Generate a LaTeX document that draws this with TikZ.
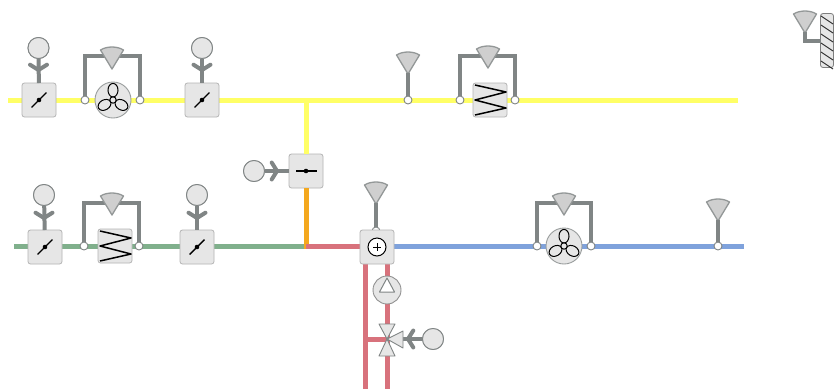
\documentclass[tikz,border=0pt]{standalone}
\usetikzlibrary{calc}
\definecolor{pyellow}{HTML}{FFFF66}
\definecolor{pgreen}{HTML}{80B08C}
\definecolor{pred}{HTML}{D8727C}
\definecolor{pblue}{HTML}{7FA2DC}
\definecolor{porange}{HTML}{F4A81E}
\definecolor{stem}{HTML}{808585}
\definecolor{edge}{HTML}{B4B4B4}
\definecolor{fillg}{HTML}{E6E6E6}
\tikzset{
 pipe/.style={line width=5pt},
 stemline/.style={draw=stem,line width=4pt},
 unitbox/.style={draw=edge,fill=fillg,line width=0.8pt,rounded corners=2.5pt,minimum size=34pt,inner sep=0pt,outer sep=0pt},
 actuator/.style={circle,draw=stem,fill=fillg,line width=0.9pt,minimum size=21pt,inner sep=0pt,outer sep=0pt},
 port/.style={circle,draw=stem,fill=white,line width=0.9pt,minimum size=8pt,inner sep=0pt,outer sep=0pt},
 rotor/.style={circle,draw=stem!80,fill=fillg,line width=0.9pt,minimum size=36pt,inner sep=0pt,outer sep=0pt},
 symb/.style={draw=black,line width=1.1pt},
 conef/.style={draw=stem!85,fill=fillg!90!black,line width=1.3pt,line join=round},
 tri/.style={draw=stem,fill=fillg,line width=0.9pt,line join=round}
}
% sensor cone with its top centre x, top y
\newcommand{\conesym}[3]{%
 \coordinate (#1) at (#2,#3+21);
 \draw[conef] (#2,#3+22) -- (#2-11.5,#3+3) .. controls (#2-5,#3-1) and (#2+5,#3-1) .. (#2+11.5,#3+3) -- cycle;}
% chevron: apex at x,y; arms along the angle given
\newcommand{\chev}[3]{%
 \draw[stemline,line cap=round,line join=round] (#1,#2) ++(#3+58:10) -- (#1,#2) -- ++(#3-58:10);}
\newcommand{\bladesym}[3]{%
 \draw[symb,line width=1.4pt] (#1,#2) ++(#3:10.5) -- (#1,#2) -- ++(#3+180:10.5);
 \fill[black] (#1,#2) circle (2.3);}
\newcommand{\zigzag}[2]{%
 \draw[symb,line width=1.5pt,line join=round] (#1-15,#2-15) -- (#1+16,#2-8) -- (#1-15,#2) -- (#1+16,#2+8) -- (#1-15,#2+15);}
\newcommand{\fanblades}[2]{%
 \foreach \a in {90,210,330}{%
  \begin{scope}[shift={(#1,#2)},rotate=\a]
   \draw[black,line width=1pt,fill=fillg] (9.8,0) ellipse [x radius=6.8pt,y radius=5pt];
  \end{scope}}
 \draw[black,line width=1pt,fill=fillg] (#1,#2) circle (3.2);}
\begin{document}
\begin{tikzpicture}[x=1pt,y=-1pt]
\useasboundingbox[fill=white] (0,0) rectangle (834,389);
% pipe end points
\coordinate (ya) at (8,100); \coordinate (yb) at (738,100); \coordinate (yj) at (306,100);
\coordinate (ga) at (14,246); \coordinate (gj) at (306,246);
\coordinate (bb) at (744,246);
\coordinate (ra) at (365,389); \coordinate (rb) at (387,389);
\coordinate (mw) at (362,246); \coordinate (me) at (392,246);
\coordinate (rc) at (365,262); \coordinate (rd) at (387,262);
% pipes
\draw[pipe,pyellow] (ya) -- (yb);
\draw[pipe,pgreen] (ga) -- (gj);
\node[unitbox] (dmid) at (306,171) {};
\draw[pipe,pyellow] (yj) -- (dmid.north);
\draw[pipe,porange] (dmid.south) -- ($(gj)+(0,2.5)$);
\draw[pipe,pred] (gj) -- (mw);
\draw[pipe,pblue] (me) -- (bb);
\draw[pipe,pred] (rc) -- (ra);
\draw[pipe,pred] (rd) -- (rb);
\coordinate (valve) at (387,339);
\coordinate (vb) at (365,339);
\draw[pipe,pred] (vb) -- (valve);
% top row
\node[unitbox] (d1) at (39,100) {};
\node[actuator] (a1) at (38.5,48) {};
\draw[stemline] (a1) -- (d1);
\chev{38.5}{70}{-90}
\node[actuator] (a1t) at (38.5,48) {};
\bladesym{39}{100}{-45}
\node[unitbox] (d2) at (202,100) {};
\node[actuator] (a2) at (202,48) {};
\draw[stemline] (a2) -- (d2);
\chev{202}{70}{-90}
\node[actuator] (a2t) at (202,48) {};
\bladesym{202}{100}{-45}
% fan 1
\node[port] (p1) at (85,100) {};
\node[port] (p2) at (140,100) {};
\draw[stemline] (p1.north) |- (112,56) -| (p2.north);
\conesym{c1}{112}{47}
\node[rotor] (f1) at (113,100) {};
\fanblades{113}{100}
% sensor 408
\node[port] (p3) at (408,100) {};
\conesym{c2}{408}{52}
\draw[stemline] (c2) -- (p3.north);
% heater top
\node[unitbox] (h1) at (490,100) {};
\node[port] (p4) at (460,100) {};
\node[port] (p5) at (515,100) {};
\draw[stemline] (p4.north) |- (488,56) -| (p5.north);
\conesym{c3}{488}{46}
\zigzag{490}{100}
% damper mid
\node[actuator] (a3) at (254,171) {};
\draw[stemline] (a3) -- (dmid);
\chev{277}{171}{180}
\node[actuator] (a3t) at (254,171) {};
\bladesym{306}{171}{0}
% second row
\node[unitbox] (d3) at (45,247) {};
\node[actuator] (a4) at (44,195) {};
\draw[stemline] (a4) -- (d3);
\chev{44}{218}{-90}
\node[actuator] (a4t) at (44,195) {};
\bladesym{45}{247}{-45}
\node[port] (p6) at (84,246) {};
\node[port] (p7) at (139,246) {};
\draw[stemline] (p6.north) |- (112,203) -| (p7.north);
\conesym{c4}{112}{193}
\node[unitbox] (h2) at (115,246) {};
\zigzag{115}{246}
\node[unitbox] (d4) at (197,247) {};
\node[actuator] (a5) at (197,195) {};
\draw[stemline] (a5) -- (d4);
\chev{197}{218}{-90}
\node[actuator] (a5t) at (197,195) {};
\bladesym{197}{247}{-45}
% mixing box
\node[port] (p8) at (376,231) {};
\conesym{c5}{376}{182}
\draw[stemline] (c5) -- (p8.north);
\node[unitbox] (mixt) at (377,247) {};
\node[circle,draw=black,fill=white,line width=1pt,minimum size=18pt,inner sep=0pt] (sum) at (377,247) {};
\draw[black,line width=0.9pt] (373,247) -- (381,247) (377,243) -- (377,251);
% pump
\node[circle,draw=edge!80!black,fill=fillg,line width=0.9pt,minimum size=28pt,inner sep=0pt] (pump) at (387,290) {};
\draw[draw=stem,fill=white,line width=1pt,line join=round] (387,278) -- (394.5,292) -- (379.5,292) -- cycle;
% valve
\node[actuator] (a6) at (433,339) {};
\draw[stemline] (valve) -- (a6);
\chev{408}{339}{0}
\node[actuator] (a6t) at (433,339) {};
\draw[tri] (valve) -- (379,324) -- (395,324) -- cycle;
\draw[tri] (valve) -- (379,356) -- (395,356) -- cycle;
\draw[tri] (valve) -- (403,331) -- (403,348) -- cycle;
% fan 2
\node[port] (p9) at (537,246) {};
\node[port] (p10) at (591,246) {};
\draw[stemline] (p9.north) |- (564,203) -| (p10.north);
\conesym{c6}{564}{193}
\node[rotor] (f2) at (564,246) {};
\fanblades{564}{246}
% sensor 718
\node[port] (p11) at (718,246) {};
\conesym{c7}{718}{199}
\draw[stemline] (c7) -- (p11.north);
% wall sensor
\node[draw=edge!70!black,fill=fillg,line width=0.8pt,rounded corners=2.5pt,minimum width=13pt,minimum height=54pt,inner sep=0pt,outer sep=0pt] (wall) at (827,40.5) {};
\conesym{c8}{805}{11}
\draw[stemline] (c8) |- (wall.west);
\foreach \y in {16,25,34,43,52,61}{\draw[black!85,line width=0.9pt] (821,\y) -- (833,\y+8);}
\end{tikzpicture}
\end{document}
